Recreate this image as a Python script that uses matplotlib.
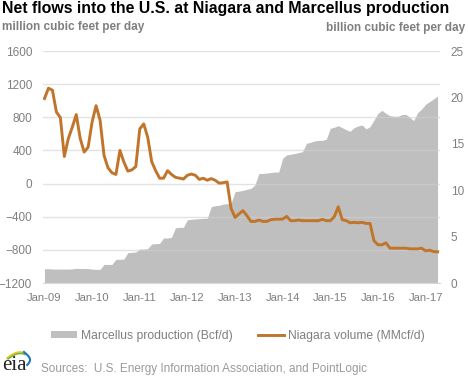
import numpy as np
import matplotlib
matplotlib.use('Agg')
import matplotlib.pyplot as plt

plt.rcParams['font.family'] = ['Liberation Sans', 'DejaVu Sans']

# monthly, Jan-09 to Apr-17
niagara = [1026, 1151, 1127, 864, 796, 327, 543, 680, 833, 543,
           380, 440, 745, 940, 765, 340, 190, 130, 110, 400,
           260, 150, 165, 205, 660, 720, 560, 265, 155, 65,
           65, 155, 110, 75, 65, 55, 100, 115, 100, 50,
           65, 40, 60, 40, 5, 10, 20, -300, -408, -366,
           -327, -388, -457, -457, -440, -457, -457, -436, -430, -430,
           -428, -396, -448, -448, -440, -448, -448, -448, -448, -448,
           -432, -448, -448, -400, -280, -436, -448, -473, -468, -473,
           -468, -481, -481, -691, -739, -739, -715, -780, -780, -780,
           -780, -780, -788, -788, -788, -780, -812, -804, -820, -824]
marcellus = [1.54, 1.54, 1.51, 1.5, 1.5, 1.5, 1.5, 1.52, 1.58, 1.56,
             1.56, 1.55, 1.5, 1.47, 1.47, 2.0, 2.0, 2.0, 2.55, 2.55,
             2.58, 3.27, 3.3, 3.34, 3.66, 3.66, 3.7, 4.2, 4.24, 4.27,
             4.85, 4.85, 4.92, 5.96, 6.0, 6.0, 6.82, 6.86, 6.9, 6.93,
             6.97, 6.97, 8.22, 8.33, 8.37, 8.5, 8.55, 8.6, 9.84, 9.9,
             9.98, 10.1, 10.2, 10.56, 11.8, 11.8, 11.85, 11.9, 11.96, 11.96,
             13.44, 13.8, 13.87, 13.95, 14.05, 14.15, 15.05, 15.16, 15.3, 15.37,
             15.37, 15.5, 16.67, 16.78, 16.95, 16.74, 16.52, 16.35, 16.74, 16.92,
             17.03, 16.6, 16.85, 17.56, 18.28, 18.6, 18.28, 18.03, 17.96, 17.96,
             18.14, 18.18, 17.85, 17.5, 18.35, 18.75, 19.26, 19.54, 19.83, 20.15]
years = ['Jan-09', 'Jan-10', 'Jan-11', 'Jan-12', 'Jan-13', 'Jan-14', 'Jan-15', 'Jan-16', 'Jan-17']
left_ticks = [-1200, -800, -400, 0, 400, 800, 1200, 1600]
right_ticks = [0, 5, 10, 15, 20, 25]

W, H = 468, 378
grey = '#7f7f7f'
months = np.arange(len(niagara))

fig = plt.figure(figsize=(W / 100, H / 100), dpi=100)
ax = fig.add_axes([42.5 / W, 1 - 283 / H, 397 / W, 232 / H])
ax2 = ax.twinx()
ax.set_zorder(ax2.get_zorder() + 1)
ax.patch.set_visible(False)

area = ax2.fill_between(months, marcellus, 0, color='#bfbfbf', lw=0, label='Marcellus production (Bcf/d)')
line, = ax.plot(months, niagara, color='#c0752a', lw=2.1, solid_joinstyle='round', label='Niagara volume (MMcf/d)')

ax.set_xlim(-0.5, 99.5)
ax.set_ylim(-1200, 1600)
ax2.set_ylim(0, 25)
ax.set_xticks(months[::12])
ax.set_xticklabels(years)
ax.set_yticks(left_ticks)
ax2.set_yticks(right_ticks)
ax.grid(axis='y', color='#d0d0d0', alpha=0.6, lw=1)
ax.set_axisbelow(True)

ax.tick_params(axis='x', length=0, pad=7, labelsize=8.1, labelcolor=grey)
ax.tick_params(axis='y', length=0, pad=7.5, labelsize=8.5, labelcolor=grey)
ax2.tick_params(axis='y', length=0, pad=8.2, labelsize=8.5, labelcolor=grey)
for a in (ax, ax2):
    for s in a.spines.values():
        s.set_visible(False)
ax.spines['bottom'].set_visible(True)
ax.spines['bottom'].set_color('#d9d9d9')

fig.text(2 / W, 1 - 9 / H, 'Net flows into the U.S. at Niagara and Marcellus production',
         fontsize=11.4, fontweight='bold', color='black', va='center')
fig.text(2 / W, 1 - 27 / H, 'million cubic feet per day', fontsize=8.5, fontweight='bold', color=grey, va='center')
fig.text(465 / W, 1 - 28 / H, 'billion cubic feet per day', fontsize=8.5, fontweight='bold', color=grey, va='center', ha='right')
fig.text(41 / W, 1 - 369 / H, 'Sources:  U.S. Energy Information Association, and PointLogic', fontsize=8.45, color='#9a9a9a', va='center')

fig.legend(handles=[area, line], ncol=2, frameon=False, loc='center', bbox_to_anchor=(238 / W, 1 - 336 / H),
           fontsize=8.7, labelcolor=grey, handlelength=2.15, handleheight=0.55, handletextpad=0.3, columnspacing=2.15)

# eia logo
logo = fig.add_axes([0, 0, 34 / W, 34 / H])
logo.set_xlim(0, 34)
logo.set_ylim(34, 0)
logo.axis('off')
t = np.linspace(0, 1, 30)
logo.plot(7 + 18 * t, 14 - 6 * np.sin(t * 2.2), color='#f2c300', lw=1.1)
logo.plot(8 + 17 * t, 15 - 5.5 * np.sin(t * 2.2), color='#6cb33f', lw=1.1)
logo.plot(24 + 6 * np.sin(t * 2.6), 8 + 13 * t, color='#1f78b4', lw=1.5)
logo.text(14.5, 21.5, 'eia', family='Liberation Serif', fontsize=15, color='#222222', ha='center', va='center')

fig.savefig('out.png', dpi=100)
